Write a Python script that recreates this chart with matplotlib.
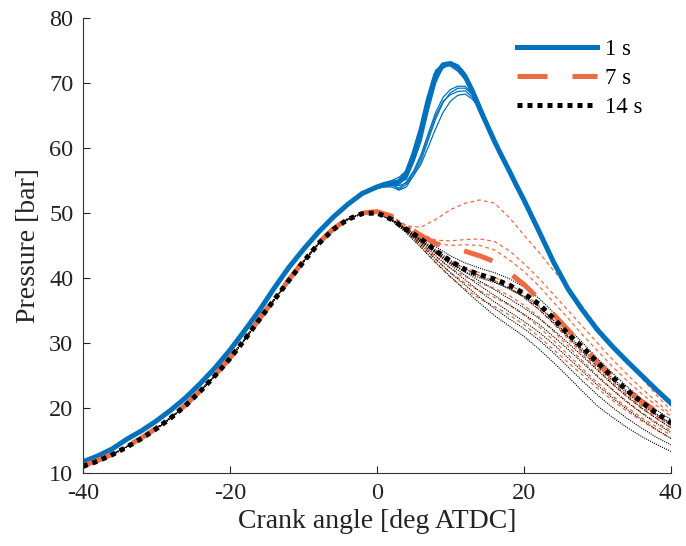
import matplotlib.pyplot as plt

plt.rcParams['font.family'] = ['Liberation Serif', 'DejaVu Serif']
plt.rcParams['axes.unicode_minus'] = False

# crank angle grids [deg ATDC]
ca_comp = [-40, -38, -36, -34, -32, -30, -28, -26, -24, -22,
           -20, -18, -16, -14, -12, -10, -8, -6, -4, -2]
ca_fine = [0, 1, 2, 3, 4, 5, 6, 7, 8, 9, 10, 11, 12, 13, 14, 15, 16, 17, 18, 19, 20]
ca_tail = [22, 24, 26, 28, 30, 32, 34, 36, 38, 40]
ca_late = [0, 2, 4, 6, 8, 10, 12, 14, 16, 18, 20, 22, 24, 26, 28, 30, 32, 34, 36, 38, 40]

# compression part (all cycles overlap here)
comp_1s = [11.7, 12.6, 13.7, 15.2, 16.5, 18.0, 19.7, 21.6, 23.8, 26.2,
           28.9, 31.9, 35.0, 38.4, 41.6, 44.4, 47.0, 49.3, 51.3, 53.0]
comp_7s = [11.1, 11.9, 12.9, 14.1, 15.4, 16.9, 18.6, 20.5, 22.7, 25.1,
           27.7, 30.6, 33.7, 36.7, 39.7, 42.6, 45.3, 47.5, 49.1, 50.0]
comp_14s = [11.0, 11.8, 12.8, 14.0, 15.3, 16.8, 18.5, 20.4, 22.6, 25.0,
            27.6, 30.5, 33.6, 36.6, 39.6, 42.5, 45.2, 47.4, 49.0, 49.9]

# 1 s: mean trace 0..20 deg (1 deg steps) and expansion tail 22..40 deg
mean_1s = [54.0, 54.4, 54.6, 54.8, 56.0, 59.0, 62.8, 67.5, 71.3, 72.8, 73.0,
           72.4, 71.0, 68.7, 66.0, 63.5, 61.0, 58.7, 56.5, 54.2, 52.0]
tail_1s = [47.3, 42.5, 38.3, 35.0, 32.0, 29.5, 27.2, 25.0, 22.8, 20.7]

cycles_1s = [
    [53.8, 54.0, 54.2, 54.4, 55.5, 58.2, 61.5, 66.5, 70.5, 72.3, 72.8,
     72.5, 71.2, 69.0, 66.5, 63.8, 61.0, 58.7, 56.5, 54.2, 52.0],
    [54.2, 54.6, 55.0, 55.5, 56.5, 59.8, 63.5, 68.2, 72.0, 72.8, 72.6,
     71.8, 70.5, 68.4, 66.0, 63.4, 60.8, 58.5, 56.3, 54.0, 51.8],
    [53.9, 54.2, 54.4, 54.6, 55.2, 57.8, 61.0, 65.8, 70.0, 72.5, 73.2,
     72.8, 71.5, 69.3, 66.8, 64.0, 61.2, 58.8, 56.6, 54.3, 52.1],
    [54.0, 54.2, 54.3, 53.8, 54.8, 56.5, 59.0, 62.3, 65.5, 67.8, 69.0,
     69.5, 69.5, 68.3, 66.5, 64.0, 61.5, 59.0, 56.6, 54.3, 52.0],
    [53.8, 54.0, 54.0, 53.5, 54.0, 55.8, 58.0, 61.3, 64.5, 67.0, 68.5,
     69.2, 69.2, 68.2, 66.5, 64.0, 61.5, 59.0, 56.6, 54.3, 52.0],
    [54.1, 54.3, 54.5, 53.6, 54.4, 55.8, 57.5, 60.2, 63.0, 65.5, 67.2,
     68.1, 68.3, 67.5, 66.0, 63.8, 61.3, 58.9, 56.5, 54.2, 52.0],
    [53.9, 54.1, 54.2, 54.2, 54.6, 56.2, 58.5, 61.8, 65.0, 67.2, 68.2,
     68.7, 68.8, 67.8, 66.2, 63.9, 61.4, 59.0, 56.5, 54.2, 52.0],
]

# 7 s and 14 s: mean traces 0..40 deg (2 deg steps)
mean_7s = [50.2, 49.5, 48.0, 46.5, 45.3, 44.6, 44.1, 43.4, 42.5, 40.8, 39.0,
           36.8, 34.4, 32.0, 29.5, 27.0, 24.8, 22.8, 21.0, 19.5, 18.1]
mean_14s = [50.0, 49.0, 47.5, 46.0, 44.2, 42.6, 41.3, 40.5, 39.8, 38.9, 37.6,
            36.0, 33.8, 31.4, 29.3, 27.0, 24.8, 22.7, 20.9, 19.2, 17.7]

cycles_7s = [
    [50.2, 49.5, 48.0, 47.8, 49.0, 50.5, 51.5, 52.0, 51.5, 49.3, 46.6,
     44.0, 41.2, 38.5, 35.5, 32.5, 29.8, 27.2, 24.6, 22.0, 19.6],
    [50.2, 49.5, 48.0, 46.8, 45.8, 45.7, 45.9, 46.0, 45.6, 44.2, 42.2,
     40.0, 37.5, 35.0, 32.5, 30.0, 27.5, 25.2, 23.0, 21.0, 19.0],
    [50.2, 49.5, 48.0, 46.5, 45.3, 45.0, 45.1, 45.0, 44.3, 42.8, 41.0,
     38.8, 36.3, 33.8, 31.2, 28.8, 26.4, 24.2, 22.2, 20.4, 18.7],
    [50.2, 49.4, 47.6, 45.8, 44.0, 42.5, 41.5, 40.8, 40.1, 39.0, 37.6,
     35.8, 33.5, 31.0, 28.6, 26.2, 24.0, 22.0, 20.2, 18.7, 17.3],
    [50.2, 49.3, 47.4, 45.3, 43.2, 41.5, 40.2, 39.2, 38.4, 37.3, 35.8,
     34.0, 31.8, 29.5, 27.2, 25.0, 22.9, 21.0, 19.3, 17.8, 16.5],
    [50.2, 49.2, 47.2, 45.0, 42.8, 40.8, 39.2, 38.0, 37.0, 35.8, 34.3,
     32.5, 30.4, 28.2, 26.0, 23.9, 21.9, 20.1, 18.5, 17.1, 15.8],
    [50.2, 49.3, 47.5, 45.6, 43.8, 42.3, 41.2, 40.4, 39.6, 38.5, 37.0,
     35.2, 33.0, 30.6, 28.2, 25.9, 23.7, 21.7, 19.9, 18.4, 17.0],
    [50.2, 49.2, 47.1, 44.7, 42.3, 40.1, 38.3, 36.8, 35.6, 34.3, 32.8,
     31.0, 29.0, 27.0, 25.0, 23.0, 21.2, 19.5, 18.0, 16.6, 15.3],
]

cycles_14s = [
    [50.0, 49.0, 47.6, 46.3, 44.8, 43.4, 42.3, 41.5, 40.8, 39.9, 38.6,
     36.9, 34.7, 32.3, 30.0, 27.6, 25.4, 23.3, 21.4, 19.7, 18.2],
    [50.0, 49.0, 47.4, 45.8, 44.0, 42.2, 40.9, 40.0, 39.3, 38.4, 37.2,
     35.6, 33.5, 31.2, 29.0, 26.8, 24.6, 22.6, 20.8, 19.1, 17.6],
    [50.0, 49.0, 47.5, 46.0, 44.3, 42.7, 41.4, 40.3, 39.4, 38.3, 37.0,
     35.2, 33.1, 30.9, 28.6, 26.4, 24.3, 22.3, 20.5, 18.9, 17.4],
    [50.0, 49.0, 47.4, 45.8, 44.1, 42.4, 40.9, 39.5, 38.2, 36.8, 35.4,
     33.8, 32.0, 30.0, 27.9, 25.8, 23.7, 21.8, 20.0, 18.4, 16.9],
    [50.0, 49.0, 47.3, 45.6, 43.8, 42.0, 40.4, 38.8, 37.3, 35.9, 34.4,
     32.9, 31.0, 29.0, 26.9, 24.8, 22.8, 20.9, 19.2, 17.6, 16.2],
    [50.0, 48.9, 47.2, 45.4, 43.4, 41.5, 39.7, 37.9, 36.3, 34.8, 33.3,
     31.7, 29.8, 27.7, 25.6, 23.5, 21.6, 19.8, 18.2, 16.7, 15.3],
    [50.0, 48.9, 47.1, 45.1, 42.9, 40.8, 38.9, 37.0, 35.3, 33.7, 32.2,
     30.5, 28.5, 26.3, 24.1, 22.0, 20.1, 18.4, 16.9, 15.5, 14.3],
    [50.0, 48.8, 46.9, 44.7, 42.4, 40.2, 38.1, 36.1, 34.2, 32.6, 31.0,
     29.1, 27.0, 24.8, 22.5, 20.3, 18.6, 17.0, 15.6, 14.4, 13.3],
]

blue = '#0072BD'
orange = '#EE6A42'

x_1s = ca_comp + ca_fine + ca_tail
x_late = ca_comp + ca_late

fig, ax = plt.subplots(figsize=(6.86, 5.46), dpi=100)
fig.subplots_adjust(left=0.121, right=0.978, bottom=0.134, top=0.967)

# thin single cycles
for c in cycles_1s:
    ax.plot(x_1s, comp_1s + c + tail_1s, color=blue, lw=0.9)
for c in cycles_7s:
    ax.plot(x_late, comp_7s + c, color=orange, lw=0.9, ls=(0, (3, 2.5)))
for c in cycles_14s:
    ax.plot(x_late, comp_14s + c, color='black', lw=0.8, ls=(0, (1, 1)))

# mean traces
ax.plot(x_1s, comp_1s + mean_1s + tail_1s, color=blue, lw=3.6, label='1 s')
ax.plot(x_late, comp_7s + mean_7s, color=orange, lw=3.6, ls=(0, (6, 5)), label='7 s')
ax.plot(x_late, comp_14s + mean_14s, color='black', lw=3.6, ls=(0, (1, 1)), label='14 s')

ax.set_xlim(-40, 40)
ax.set_ylim(10, 80)
ax.set_xticks([-40, -20, 0, 20, 40])
ax.set_yticks([10, 20, 30, 40, 50, 60, 70, 80])
ax.tick_params(direction='in', length=5, width=0.8, labelsize=17.5,
               colors='#222222', pad=7)
ax.spines['top'].set_visible(False)
ax.spines['right'].set_visible(False)
for s in ['left', 'bottom']:
    ax.spines[s].set_color('#333333')
ax.set_xlabel('Crank angle [deg ATDC]', fontsize=20, color='#222222', labelpad=4)
ax.set_ylabel('Pressure [bar]', fontsize=20, color='#222222', labelpad=6)

ax.legend(loc='upper left', bbox_to_anchor=(0.738, 0.955), frameon=False,
          fontsize=16.5, handlelength=3.5, handletextpad=0.35,
          labelspacing=0.35, borderpad=0, borderaxespad=0)

plt.savefig('out.png')
